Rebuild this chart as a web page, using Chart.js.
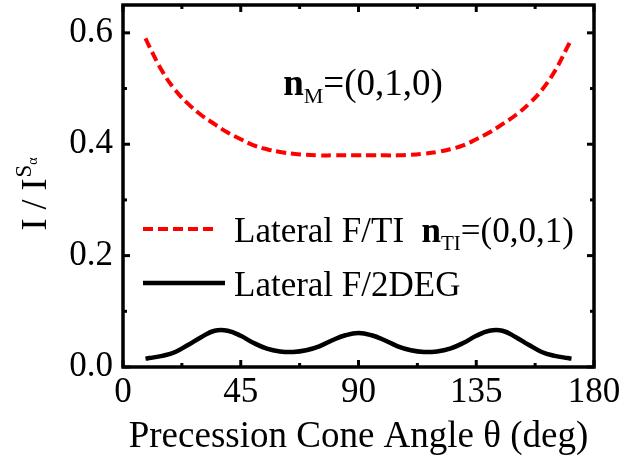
<!DOCTYPE html>
<html lang="en">
<head>
    <meta charset="UTF-8" />
    <title>Precession cone angle</title>
    <script src="https://cdn.jsdelivr.net/npm/chart.js"></script>
    <style>
        body { margin: 0; padding: 0; background: #fff; }
        canvas { display: block; }
    </style>
</head>
<body>
    <canvas id="myChart" width="634" height="463"></canvas>

    <script>
        // data
        const theta = [8.6, 10, 15, 20, 25, 30, 35, 40, 45, 50, 55, 60, 65, 70, 75, 80, 85, 90,
            95, 100, 105, 110, 115, 120, 125, 130, 135, 140, 145, 150, 155, 160, 165, 170, 171.4];
        const lateralTI = [0.590, 0.576, 0.531, 0.497, 0.472, 0.452, 0.436, 0.421, 0.409, 0.398,
            0.391, 0.386, 0.383, 0.381, 0.380, 0.380, 0.380, 0.380,
            0.380, 0.380, 0.380, 0.381, 0.383, 0.386, 0.391, 0.398, 0.409, 0.421, 0.436, 0.452,
            0.472, 0.497, 0.531, 0.576, 0.590];
        const lateral2DEG = [0.015, 0.016, 0.020, 0.027, 0.040, 0.054, 0.065, 0.065, 0.056, 0.043,
            0.033, 0.028, 0.027, 0.030, 0.037, 0.048, 0.057, 0.061,
            0.057, 0.048, 0.037, 0.030, 0.027, 0.028, 0.033, 0.043, 0.056, 0.065, 0.065, 0.054,
            0.040, 0.027, 0.020, 0.016, 0.015];
        const xTicks = [0, 45, 90, 135, 180];
        const xMinorTicks = [22.5, 67.5, 112.5, 157.5];
        const yTicks = [0, 0.2, 0.4, 0.6];
        const yMinorTicks = [0.1, 0.3, 0.5];

        const SERIF = "'Liberation Serif', 'DejaVu Serif', serif";

        // draw a run of text pieces (different fonts / offsets) starting at x
        function drawRuns(ctx, x, y, runs) {
            runs.forEach((r) => {
                ctx.font = r.font;
                ctx.fillText(r.text, x + (r.dx || 0), y + (r.dy || 0));
                x += ctx.measureText(r.text).width + (r.dx || 0);
            });
            return x;
        }
        function runsWidth(ctx, runs) {
            let w = 0;
            runs.forEach((r) => { ctx.font = r.font; w += ctx.measureText(r.text).width + (r.dx || 0); });
            return w;
        }

        const framePlugin = {
            id: "frame",
            afterDraw(chart) {
                const { ctx, chartArea: a, scales } = chart;
                ctx.save();
                ctx.strokeStyle = "#000";
                ctx.lineWidth = 3.5;
                ctx.strokeRect(a.left, a.top, a.right - a.left, a.bottom - a.top);

                // inward ticks on all four sides
                ctx.lineWidth = 3;
                const tick = (x1, y1, x2, y2) => { ctx.beginPath(); ctx.moveTo(x1, y1); ctx.lineTo(x2, y2); ctx.stroke(); };
                xTicks.concat(xMinorTicks).forEach((v) => {
                    const len = xTicks.includes(v) ? 7 : 4;
                    const px = scales.x.getPixelForValue(v);
                    tick(px, a.bottom, px, a.bottom - len);
                    tick(px, a.top, px, a.top + len);
                });
                yTicks.concat(yMinorTicks).forEach((v) => {
                    const len = yTicks.includes(v) ? 7 : 4;
                    const py = scales.y.getPixelForValue(v);
                    tick(a.left, py, a.left + len, py);
                    tick(a.right, py, a.right - len, py);
                });

                // y axis title  I / I^{S_alpha}
                ctx.fillStyle = "#000";
                ctx.textBaseline = "alphabetic";
                const yRuns = [
                    { text: "I / I", font: "36px " + SERIF },
                    { text: "S", font: "23px " + SERIF, dy: -15, dx: 1 },
                    { text: "\u03b1", font: "14px " + SERIF, dy: -9 },
                ];
                ctx.save();
                ctx.translate(46, (a.top + a.bottom) / 2 + 8);
                ctx.rotate(-Math.PI / 2);
                drawRuns(ctx, -runsWidth(ctx, yRuns) / 2, 0, yRuns);
                ctx.restore();

                // annotation n_M=(0,1,0)
                drawRuns(ctx, scales.x.getPixelForValue(61.2), scales.y.getPixelForValue(0.488), [
                    { text: "n", font: "bold 37px " + SERIF },
                    { text: "M", font: "22px " + SERIF, dy: 8 },
                    { text: "=(0,1,0)", font: "37px " + SERIF },
                ]);

                // legend inside the plot
                const ds = chart.data.datasets;
                const rows = [
                    { y: 229, x2: 218, runs: [
                        { text: "Lateral F/TI  ", font: "35px " + SERIF },
                        { text: "n", font: "bold 35px " + SERIF },
                        { text: "TI", font: "21px " + SERIF, dy: 8 },
                        { text: "=(0,0,1)", font: "35px " + SERIF },
                    ] },
                    { y: 283, x2: 225, runs: [
                        { text: "Lateral F/2DEG", font: "35px " + SERIF },
                    ] },
                ];
                rows.forEach((row, i) => {
                    ctx.save();
                    ctx.strokeStyle = ds[i].borderColor;
                    ctx.lineWidth = ds[i].borderWidth;
                    ctx.setLineDash(ds[i].borderDash || []);
                    ctx.beginPath();
                    ctx.moveTo(143, row.y);
                    ctx.lineTo(row.x2, row.y);
                    ctx.stroke();
                    ctx.restore();
                    drawRuns(ctx, 234, row.y + 13, row.runs);
                });
                ctx.restore();
            },
        };

        const ctx = document.getElementById("myChart").getContext("2d");
        const myChart = new Chart(ctx, {
            type: "line",
            data: {
                datasets: [
                    {
                        label: "Lateral F/TI",
                        data: theta.map((t, i) => ({ x: t, y: lateralTI[i] })),
                        borderColor: "#ff0000",
                        borderWidth: 4,
                        borderDash: [10, 5],
                        pointRadius: 0,
                        tension: 0.4,
                        fill: false,
                    },
                    {
                        label: "Lateral F/2DEG",
                        data: theta.map((t, i) => ({ x: t, y: lateral2DEG[i] })),
                        borderColor: "#000000",
                        borderWidth: 4.5,
                        pointRadius: 0,
                        tension: 0.4,
                        fill: false,
                    },
                ],
            },
            options: {
                responsive: false,
                devicePixelRatio: 1,
                animation: false,
                layout: { padding: { top: 5, right: 40, left: 0, bottom: 0 } },
                plugins: {
                    legend: { display: false },
                    tooltip: { enabled: false },
                },
                scales: {
                    x: {
                        type: "linear",
                        min: 0,
                        max: 180,
                        afterBuildTicks: (s) => { s.ticks = xTicks.map((v) => ({ value: v })); },
                        afterFit: (s) => { s.height = 96; s.paddingLeft = 0; s.paddingRight = 0; },
                        grid: { display: false, drawTicks: false },
                        border: { display: false },
                        ticks: {
                            color: "#000",
                            padding: 5,
                            font: { family: SERIF, size: 35 },
                            maxRotation: 0,
                        },
                        title: {
                            display: true,
                            text: "Precession Cone Angle \u03b8 (deg)",
                            color: "#000",
                            font: { family: SERIF, size: 37 },
                            padding: { top: 0, bottom: 4 },
                        },
                    },
                    y: {
                        min: 0,
                        max: 0.65,
                        afterBuildTicks: (s) => { s.ticks = yTicks.map((v) => ({ value: v })); },
                        afterFit: (s) => { s.width = 123; s.paddingTop = 0; s.paddingBottom = 0; },
                        grid: { display: false, drawTicks: false },
                        border: { display: false },
                        ticks: {
                            color: "#000",
                            padding: 10,
                            font: { family: SERIF, size: 35 },
                            callback: (v) => Number(v).toFixed(1),
                        },
                    },
                },
            },
            plugins: [framePlugin],
        });
    </script>
</body>
</html>
